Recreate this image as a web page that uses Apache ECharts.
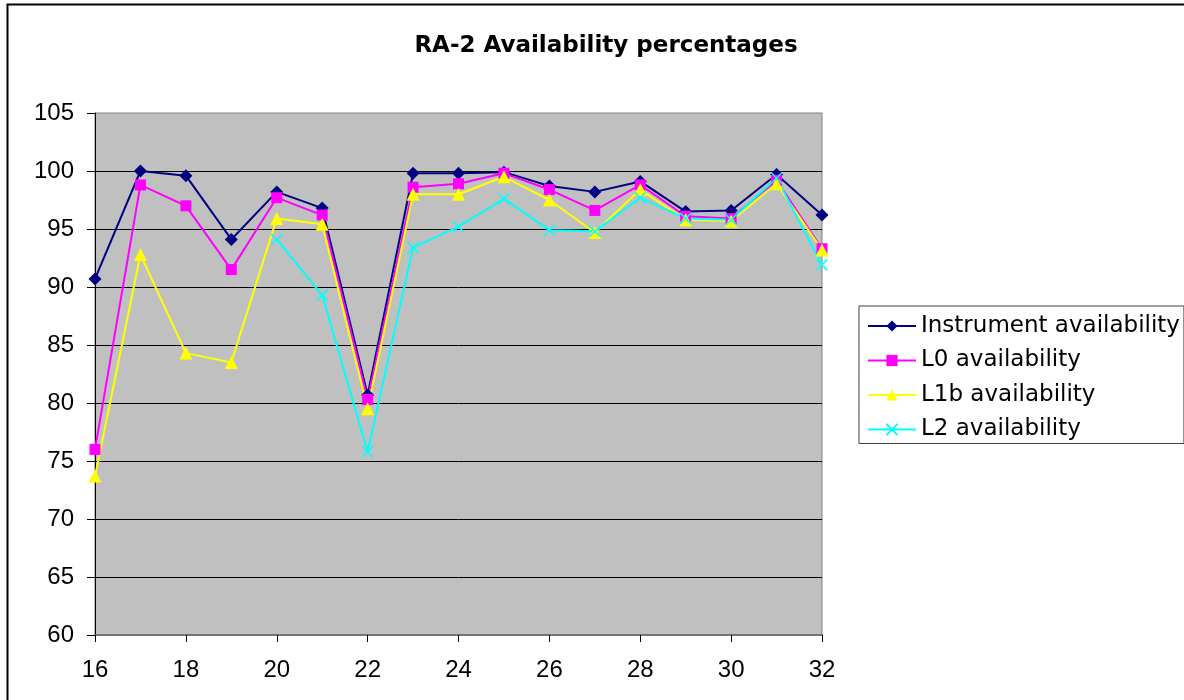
<!DOCTYPE html>
<html>
<head>
<meta charset="utf-8">
<script src="https://cdn.jsdelivr.net/npm/echarts@6/dist/echarts.min.js"></script>
<style>
  html, body { margin: 0; padding: 0; background: #ffffff; }
  #chart { width: 1184px; height: 700px; }
</style>
</head>
<body>
<div id="chart"></div>
<script>
// Week numbers on the horizontal axis
const weeks = [16, 17, 18, 19, 20, 21, 22, 23, 24, 25, 26, 27, 28, 29, 30, 31, 32];

// Availability percentages per week
const instrument = [90.7, 100.0, 99.6, 94.1, 98.2, 96.8, 80.7, 99.8, 99.8, 99.9, 98.7, 98.2, 99.1, 96.5, 96.6, 99.7, 96.2];
const l0 = [76.0, 98.8, 97.0, 91.5, 97.7, 96.2, 80.3, 98.6, 98.9, 99.8, 98.4, 96.6, 98.8, 96.1, 95.9, 99.2, 93.3];
const l1b = [73.7, 92.8, 84.3, 83.5, 95.9, 95.4, 79.5, 98.0, 98.0, 99.5, 97.5, 94.7, 98.4, 95.8, 95.7, 98.9, 93.2];
const l2 = [null, null, null, null, 94.1, 89.3, 75.8, 93.4, 95.2, 97.6, 94.9, 94.8, 97.7, 95.9, 95.8, 99.4, 91.9];

const seriesNames = ['Instrument availability', 'L0 availability', 'L1b availability', 'L2 availability'];
const titleText = 'RA-2 Availability percentages';

const pairs = (vals) => weeks.map((w, i) => [w, vals[i]]);

const chart = echarts.init(document.getElementById('chart'), null, { renderer: 'canvas' });

const axisFont = { fontFamily: 'Liberation Sans, Arial, sans-serif', fontSize: 24, color: '#000' };

function lineSeries(name, vals, color, symbol, size, extraItem) {
  return {
    name: name,
    type: 'line',
    data: pairs(vals),
    symbol: symbol,
    symbolSize: size,
    connectNulls: false,
    lineStyle: { color: color, width: 2 },
    itemStyle: Object.assign({ color: color }, extraItem || {}),
    emphasis: { disabled: true }
  };
}

chart.setOption({
  animation: false,
  backgroundColor: '#ffffff',
  title: {
    text: titleText,
    left: 601,
    top: 30,
    textAlign: 'center',
    textStyle: { fontFamily: 'DejaVu Sans, sans-serif', fontWeight: 'bold', fontSize: 23, color: '#000' }
  },
  graphic: [{
    type: 'rect',
    shape: { x: 7.5, y: 4.5, width: 1200, height: 720 },
    style: { fill: 'none', stroke: '#000', lineWidth: 2 },
    silent: true,
    z: -1
  }],
  legend: {
    orient: 'vertical',
    left: 859,
    top: 306,
    data: seriesNames,
    itemWidth: 48,
    itemHeight: 14,
    itemGap: 8.5,
    padding: [7, 4, 1, 8],
    borderColor: '#404040',
    borderWidth: 1,
    backgroundColor: '#ffffff',
    textStyle: { fontFamily: 'DejaVu Sans, sans-serif', fontSize: 23, color: '#000', lineHeight: 26 }
  },
  grid: {
    left: 95,
    right: 362,
    top: 113,
    bottom: 65,
    show: true,
    backgroundColor: '#c0c0c0',
    borderColor: '#808080',
    borderWidth: 1,
    containLabel: false
  },
  xAxis: {
    type: 'value',
    min: 16,
    max: 32,
    interval: 2,
    axisLine: { show: true, onZero: false, lineStyle: { color: '#606060', width: 1.5 } },
    axisTick: { show: true, inside: false, length: 7, lineStyle: { color: '#000' } },
    axisLabel: Object.assign({ margin: 23 }, axisFont),
    splitLine: { show: false }
  },
  yAxis: {
    type: 'value',
    min: 60,
    max: 105,
    interval: 5,
    axisLine: { show: true, lineStyle: { color: '#000', width: 1 } },
    axisTick: { show: true, inside: false, length: 8, lineStyle: { color: '#000' } },
    axisLabel: Object.assign({ margin: 21 }, axisFont),
    splitLine: { show: true, showMinLine: false, showMaxLine: false, lineStyle: { color: '#000', width: 1 } }
  },
  series: [
    lineSeries(seriesNames[0], instrument, '#000080', 'diamond', 13),
    lineSeries(seriesNames[1], l0, '#ff00ff', 'rect', 11),
    lineSeries(seriesNames[2], l1b, '#ffff00', 'triangle', 13),
    lineSeries(seriesNames[3], l2, '#00ffff', 'path://M0,0L10,10M10,0L0,10', 11,
      { borderColor: '#00ffff', borderWidth: 1.5 })
  ]
});
</script>
</body>
</html>
